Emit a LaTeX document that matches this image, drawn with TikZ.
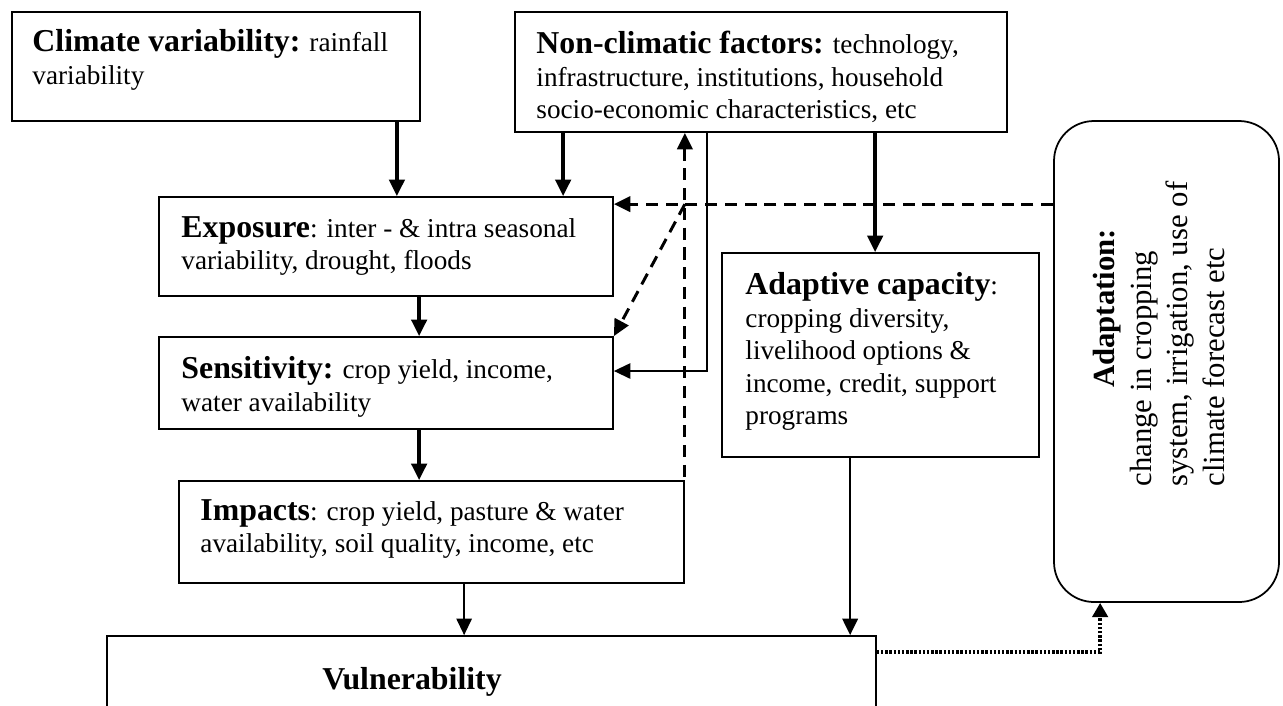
\documentclass[tikz,border=0pt]{standalone}
\usepackage{fontspec}
\setmainfont{Liberation Serif}
\usetikzlibrary{arrows.meta,fit,calc}

\newcommand{\hd}[1]{{\fontsize{14.5}{16}\selectfont\bfseries #1}}

\tikzset{
  box/.style={draw, line width=0.8pt, inner sep=0pt},
  txt/.style={anchor=north west, inner sep=0pt, align=left, font=\fontsize{12.4}{14.8}\selectfont},
  tip/.style={-{Triangle[length=7.5pt,width=7pt]}},
  arr/.style={tip, line width=1.5pt},
  midarr/.style={tip, line width=1.1pt},
  thinarr/.style={tip, line width=0.7pt},
  dasharr/.style={tip, line width=1.35pt, dash pattern=on 5.5pt off 3.5pt},
  dotarr/.style={-{Triangle[length=6.5pt,width=7pt]}, line width=1.6pt, dash pattern=on 1.1pt off 0.8pt},
}

\begin{document}
\begin{tikzpicture}[x=0.016cm, y=-0.016cm]
\useasboundingbox (0,0) rectangle (1283,705);
\clip (0,0) rectangle (1283,705);

% boxes
\node[box, fit={(12,12) (420,121)}] (clim) {};
\node[box, fit={(515,12) (1007,132)}] (nonc) {};
\node[box, fit={(159,197) (613,296)}] (expo) {};
\node[box, fit={(159,337) (613,429)}] (sens) {};
\node[box, fit={(179,481) (684,583)}] (imp) {};
\node[box, fit={(107,636) (876,740)}] (vuln) {};
\node[box, fit={(722,253) (1039,457)}] (adcap) {};
\node[box, rounded corners=0.64cm, fit={(1054,121) (1279,602)}] (adapt) {};

% texts
\node[txt] (climT) at (32,29) {\hd{Climate variability:} rainfall\\variability};
\node[txt] (noncT) at (536,31) {\hd{Non-climatic factors:} technology,\\infrastructure, institutions, household\\socio-economic characteristics, etc};
\node[txt] (expoT) at (181,216) {\hd{Exposure}: inter - \& intra seasonal\\variability, drought, floods};
\node[txt] (sensT) at (181,356) {\hd{Sensitivity:} crop yield, income,\\water availability};
\node[txt] (impT) at (200,499) {\hd{Impacts}: crop yield, pasture \& water\\availability, soil quality, income, etc};
\node[txt] (adcapT) at (745,272) {\hd{Adaptive capacity}:\\cropping diversity,\\livelihood options \&\\income, credit, support\\programs};
\node[txt] (vulnT) at (322,667) {\hd{Vulnerability}};
\node[txt, font=\fontsize{14}{16.6}\selectfont, rotate=90] (adaptT) at (1093,487)
  {\hspace*{45pt}\textbf{Adaptation:}\\change in cropping\\system, irrigation, use of\\climate forecast etc};

% connectors
\coordinate (c1) at ($(clim.south east)+(-24,0)$);
\coordinate (c2) at ($(nonc.south west)+(49,0)$);
\coordinate (c3) at ($(nonc.south west)+(361,0)$);
\coordinate (c4) at ($(nonc.south west)+(193,0)$);
\coordinate (c5) at ($(expo.south west)+(261,0)$);
\coordinate (c6) at ($(imp.south west)+(286,0)$);
\coordinate (c7) at ($(adcap.south west)+(129,0)$);
\coordinate (c8) at ($(expo.north east)+(0,8)$);
\coordinate (c9) at ($(adapt.south west)+(47,0)$);
\coordinate (c10) at ($(vuln.north east)+(0,17)$);

\draw[arr] (c1) -- (c1 |- expo.north);
\draw[arr] (c2) -- (c2 |- expo.north);
\draw[arr] (c3) -- (c3 |- adcap.north);
\draw[thinarr] (c4) |- ($(sens.east)+(0,-12)$);
\draw[dasharr] (adapt.west |- c8) -- (c8);
\draw[dasharr] (imp.north east |- c8) -- (sens.north east);
\draw[dasharr, {Triangle[length=7.5pt,width=7pt]}-] (imp.north east |- nonc.south) -- (imp.north east);
\draw[arr] (c5) -- (c5 |- sens.north);
\draw[arr] (c5 |- sens.south) -- (c5 |- imp.north);
\draw[thinarr] (c6) -- (c6 |- vuln.north);
\draw[midarr] (c7) -- (c7 |- vuln.north);
\draw[dotarr] (c10) -| (c9);
\end{tikzpicture}
\end{document}
